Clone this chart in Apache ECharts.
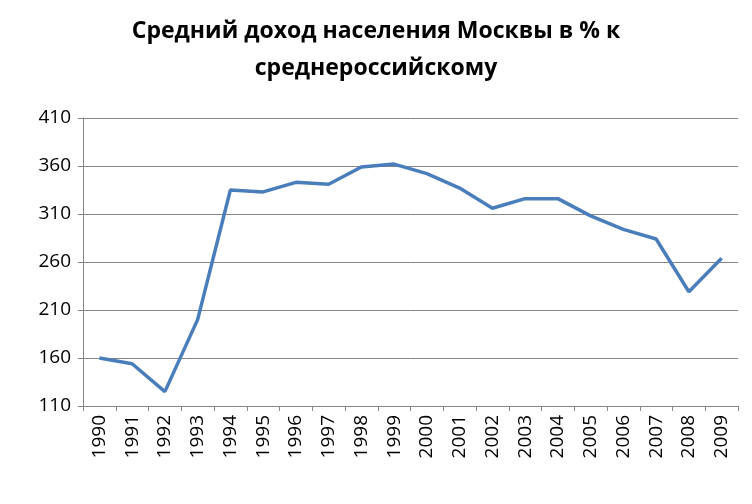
<!DOCTYPE html><html><head><meta charset="utf-8">
<script src="https://cdn.jsdelivr.net/npm/echarts@6/dist/echarts.min.js"></script>
<style>html,body{margin:0;padding:0;background:#fff}#c{width:752px;height:504px}</style>
</head><body><div id="c"></div><script>
var categories=['1990','1991','1992','1993','1994','1995','1996','1997','1998','1999','2000','2001','2002','2003','2004','2005','2006','2007','2008','2009'];
var values=[160,154,125,200,335,333,343,341,359,362,352,337,316,326,326,308,294,284,229,264];
var titleText='Средний доход населения Москвы в % к\nсреднероссийскому';
var c=echarts.init(document.getElementById('c'));
c.setOption({
 title:{text:titleText,left:'center',top:8,textStyle:{fontFamily:'Open Sans',fontSize:23,fontWeight:'bold',color:'#000',lineHeight:37}},
 grid:{left:83,right:14,top:118,bottom:98},
 xAxis:{type:'category',data:categories,boundaryGap:true,
  axisLine:{lineStyle:{color:'#868686'}},axisTick:{show:true,lineStyle:{color:'#868686'},length:5},
  axisLabel:{rotate:90,color:'#000',fontSize:19,fontFamily:'Open Sans',margin:9}},
 yAxis:{type:'value',min:110,max:410,interval:50,
  axisLine:{show:true,lineStyle:{color:'#868686'}},axisTick:{show:true,lineStyle:{color:'#868686'}},
  splitLine:{lineStyle:{color:'#868686'}},
  axisLabel:{color:'#000',fontSize:19,fontFamily:'Open Sans',margin:12}},
 series:[{type:'line',data:values,symbol:'none',lineStyle:{color:'#4a7ebb',width:3.5}}]
});
</script></body></html>
